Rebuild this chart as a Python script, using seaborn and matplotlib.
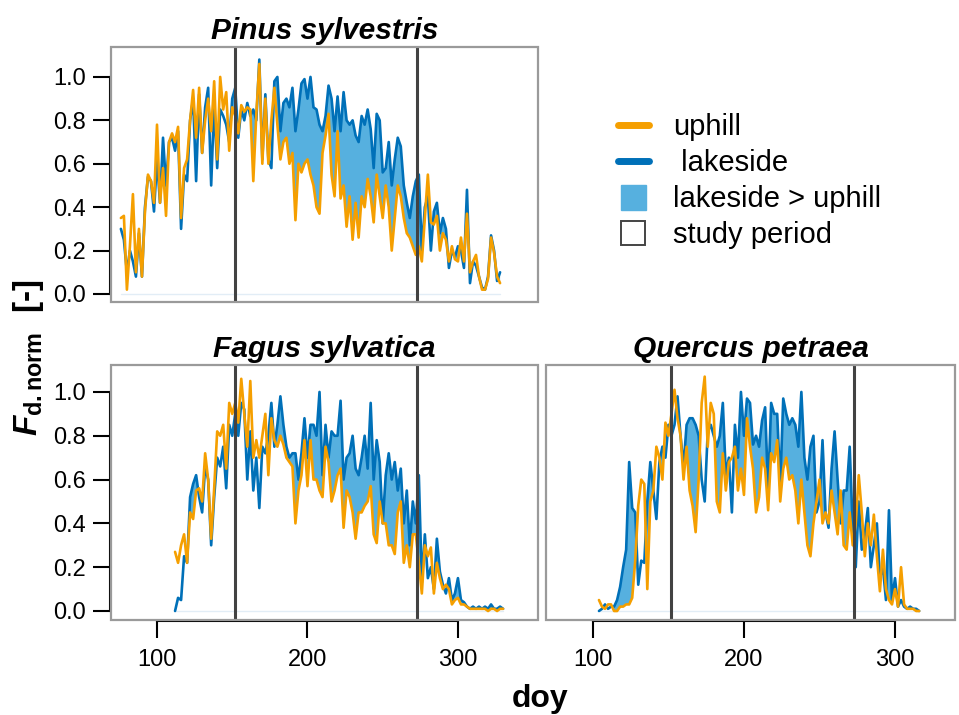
import pandas as pd
import seaborn as sns
import matplotlib.pyplot as plt
from matplotlib.lines import Line2D
from matplotlib.patches import Rectangle

# %% data (daily sap flow, normalised, read every 2nd day)
pinusDoy = list(range(76, 329, 2))
pinusLake = [0.30,0.25,0.10,0.20,0.15,0.08,0.28,0.08,0.40,0.54,
             0.52,0.38,0.62,0.42,0.72,0.50,0.70,0.72,0.66,0.75,
             0.30,0.55,0.52,0.80,0.90,0.52,0.92,0.65,0.86,0.95,
             0.50,0.88,0.58,0.85,0.82,0.78,0.70,0.90,0.95,0.72,
             0.85,0.80,0.88,0.82,0.85,0.80,1.08,0.62,0.92,0.62,
             0.58,0.98,1.00,0.75,0.88,0.90,0.86,0.95,0.75,0.85,
             0.97,0.99,0.90,1.00,0.86,0.85,0.78,0.75,0.82,0.96,
             0.90,0.75,0.91,0.75,0.93,0.80,0.78,0.80,0.73,0.70,
             0.82,0.78,0.85,0.76,0.58,0.83,0.80,0.56,0.58,0.70,
             0.50,0.62,0.72,0.68,0.50,0.42,0.35,0.45,0.52,0.55,
             0.20,0.40,0.45,0.20,0.38,0.42,0.28,0.35,0.30,0.12,
             0.20,0.17,0.22,0.20,0.12,0.48,0.05,0.15,0.13,0.08,
             0.03,0.02,0.08,0.27,0.20,0.06,0.10]
pinusUp = [0.35,0.36,0.02,0.22,0.46,0.10,0.30,0.08,0.38,0.55,
           0.52,0.42,0.78,0.42,0.58,0.36,0.70,0.74,0.70,0.77,
           0.35,0.58,0.62,0.80,0.94,0.72,0.95,0.65,0.80,0.90,
           0.75,0.98,0.62,1.00,0.85,0.93,0.66,0.86,0.82,0.74,
           0.87,0.84,0.86,0.85,0.52,0.83,1.06,0.60,0.90,0.60,
           0.80,0.95,0.78,0.62,0.70,0.72,0.60,0.65,0.34,0.60,
           0.56,0.60,0.62,0.55,0.50,0.40,0.37,0.65,0.73,0.83,
           0.55,0.45,0.75,0.44,0.50,0.31,0.45,0.25,0.42,0.26,
           0.45,0.40,0.53,0.45,0.33,0.55,0.45,0.35,0.50,0.40,
           0.20,0.35,0.50,0.45,0.35,0.28,0.26,0.22,0.18,0.22,
           0.15,0.35,0.55,0.33,0.32,0.36,0.20,0.28,0.25,0.15,
           0.22,0.16,0.15,0.26,0.15,0.37,0.10,0.15,0.18,0.08,
           0.02,0.02,0.07,0.26,0.19,0.08,0.05]
fagusDoy = list(range(112, 331, 2))
fagusLake = [0.00,0.06,0.05,0.25,0.22,0.52,0.58,0.62,0.52,0.45,
             0.66,0.60,0.30,0.52,0.70,0.66,0.75,0.56,0.85,0.80,
             0.90,0.80,0.95,0.92,0.60,0.82,0.55,0.70,0.47,0.75,
             0.72,0.80,0.95,0.75,0.85,0.98,0.85,0.75,0.70,0.72,
             0.72,0.60,0.72,0.88,0.70,0.85,0.85,0.80,1.00,0.62,
             0.85,0.70,0.82,0.80,0.80,0.96,0.60,0.70,0.72,0.80,
             0.65,0.62,0.70,0.80,0.65,0.95,0.60,0.78,0.68,0.40,
             0.62,0.72,0.60,0.68,0.55,0.65,0.40,0.55,0.30,0.50,
             0.40,0.62,0.13,0.35,0.15,0.20,0.10,0.33,0.18,0.12,
             0.08,0.15,0.05,0.08,0.15,0.05,0.04,0.02,0.01,0.02,
             0.01,0.02,0.01,0.02,0.01,0.03,0.01,0.01,0.02,0.01]
fagusUp = [0.27,0.22,0.30,0.35,0.22,0.45,0.42,0.55,0.56,0.50,
           0.72,0.60,0.33,0.56,0.82,0.80,0.85,0.65,0.95,0.90,
           0.95,0.86,1.06,0.90,0.75,1.05,0.70,0.78,0.70,0.80,
           0.90,0.62,0.88,0.78,0.75,0.80,0.76,0.70,0.68,0.66,
           0.40,0.55,0.62,0.78,0.57,0.78,0.60,0.60,0.55,0.52,
           0.75,0.68,0.50,0.55,0.62,0.65,0.38,0.55,0.52,0.45,
           0.33,0.45,0.45,0.48,0.50,0.57,0.35,0.31,0.50,0.40,
           0.40,0.30,0.30,0.26,0.45,0.50,0.22,0.30,0.20,0.35,
           0.35,0.22,0.08,0.30,0.25,0.29,0.08,0.22,0.15,0.10,
           0.12,0.10,0.03,0.05,0.06,0.03,0.03,0.02,0.01,0.01,
           0.01,0.01,0.01,0.01,0.00,0.01,0.01,0.00,0.01,0.01]
quercusDoy = list(range(104, 317, 2))
quercusLake = [0.00,0.01,0.03,0.01,0.02,0.02,0.05,0.11,0.20,0.28,
               0.68,0.47,0.45,0.12,0.23,0.22,0.50,0.68,0.55,0.42,
               0.68,0.75,0.70,0.85,0.80,0.85,0.98,0.80,0.66,0.85,
               0.88,0.88,0.85,0.80,0.60,0.50,0.82,0.85,0.80,0.75,
               0.80,0.95,0.62,0.70,0.45,0.85,0.70,1.00,0.80,0.97,
               0.95,0.76,0.80,0.75,0.87,0.93,0.55,0.95,0.90,0.90,
               0.57,0.97,0.90,0.85,0.88,0.85,0.75,1.00,0.70,0.60,
               0.75,0.80,0.45,0.50,0.78,0.45,0.38,0.65,0.82,0.60,
               0.40,0.55,0.55,0.75,0.38,0.20,0.50,0.28,0.35,0.47,
               0.20,0.30,0.40,0.15,0.20,0.05,0.46,0.05,0.15,0.02,
               0.05,0.02,0.01,0.02,0.01,0.01,0.00]
quercusUp = [0.05,0.02,0.01,0.03,0.03,0.00,0.00,0.02,0.02,0.03,
             0.03,0.06,0.23,0.48,0.60,0.58,0.10,0.50,0.55,0.75,
             0.70,0.60,0.86,0.80,0.90,1.01,0.88,0.80,0.60,0.75,
             0.55,0.48,0.36,0.60,0.95,1.07,0.75,0.95,0.90,0.50,
             0.45,0.72,0.55,0.68,0.70,0.75,0.55,0.65,0.53,0.88,
             0.75,0.65,0.45,0.52,0.70,0.65,0.46,0.72,0.68,0.78,
             0.50,0.65,0.70,0.60,0.62,0.55,0.40,0.60,0.45,0.30,
             0.25,0.40,0.50,0.60,0.40,0.45,0.40,0.55,0.45,0.35,
             0.55,0.30,0.28,0.45,0.30,0.40,0.62,0.45,0.25,0.40,
             0.30,0.44,0.25,0.09,0.28,0.10,0.05,0.03,0.10,0.02,
             0.20,0.03,0.01,0.01,0.01,0.00,0.00]
studyPeriod = [152, 273]
yTicks = [0.0, 0.2, 0.4, 0.6, 0.8, 1.0]
xTicks = [100, 200, 300]
legendLabels = ['uphill', ' lakeside', 'lakeside > uphill', 'study period']

# %% style
sns.set_theme(style="white")
plt.rcParams['font.family'] = ['Liberation Sans', 'DejaVu Sans']
plt.rcParams['mathtext.fontset'] = 'custom'
plt.rcParams['mathtext.it'] = 'Liberation Sans:italic:bold'
plt.rcParams['mathtext.bf'] = 'Liberation Sans:bold'
plt.rcParams['mathtext.rm'] = 'Liberation Sans:bold'
for k in ['text.color', 'axes.labelcolor', 'xtick.color', 'ytick.color']:
    plt.rcParams[k] = 'black'
colUp = '#F59F00'
colLake = '#0070B8'
colFill = '#56B0DF'
colStudy = '#424242'
colBox = '#9A9A9A'

def panel(ax, doy, lake, up, title, xlim, ylim, showX, showY):
    df = pd.DataFrame({'doy': doy, 'lake': lake, 'up': up})
    ax.fill_between(df.doy, df.up, df.lake, where=df.lake > df.up, interpolate=True,
                    color=colFill, lw=0, zorder=1)
    ax.plot([doy[0], doy[-1]], [0, 0], color='#e2edf6', lw=1, zorder=0.5)
    sns.lineplot(data=df, x='doy', y='lake', color=colLake, lw=1.9, ax=ax, zorder=2)
    sns.lineplot(data=df, x='doy', y='up', color=colUp, lw=1.9, ax=ax, zorder=3)
    for d in studyPeriod:
        ax.axvline(d, color=colStudy, lw=2.2, zorder=4)
    ax.set_xlim(xlim)
    ax.set_ylim(ylim)
    ax.set_xlabel('')
    ax.set_ylabel('')
    for s in ax.spines.values():
        s.set_visible(False)
    ax.add_patch(Rectangle((0, 0), 1, 1, transform=ax.transAxes, fill=False, ec=colBox,
                           lw=1.6, clip_on=False, zorder=5))
    if showY:
        sp = ax.spines['left']
        sp.set_visible(True)
        sp.set_color('black')
        sp.set_linewidth(1.5)
        sp.set_position(('outward', 1))
        sp.set_bounds(0, 1)
        ax.set_yticks(yTicks)
        ax.set_yticklabels([f'{v:.1f}' for v in yTicks])
        ax.tick_params(axis='y', left=True, direction='out', length=12, width=1.5,
                       labelsize=17, pad=5, color='black', labelcolor='black')
    else:
        ax.set_yticks([])
    if showX:
        sp = ax.spines['bottom']
        sp.set_visible(True)
        sp.set_color('black')
        sp.set_linewidth(1.5)
        sp.set_position(('outward', 1))
        sp.set_bounds(100, 300)
        ax.set_xticks(xTicks)
        ax.set_xticklabels([str(v) for v in xTicks])
        ax.tick_params(axis='x', bottom=True, direction='out', length=12, width=1.5,
                       labelsize=17, pad=8, color='black', labelcolor='black')
    else:
        ax.set_xticks([])
    ax.set_title(title, fontsize=21.5, fontweight='bold', fontstyle='italic', pad=6,
                 color='black')

# %% figure
fig = plt.figure(figsize=(9.59, 7.15), dpi=100)
axP = fig.add_axes([0.1157, 0.5776, 0.4453, 0.3567])
axF = fig.add_axes([0.1157, 0.1329, 0.4453, 0.3566])
axQ = fig.add_axes([0.5693, 0.1329, 0.4265, 0.3566])
panel(axP, pinusDoy, pinusLake, pinusUp, 'Pinus sylvestris', (69.4, 353.2), (-0.037, 1.138), False, True)
panel(axF, fagusDoy, fagusLake, fagusUp, 'Fagus sylvatica', (69.4, 353.2), (-0.041, 1.123), True, True)
panel(axQ, quercusDoy, quercusLake, quercusUp, 'Quercus petraea', (68.9, 339.7), (-0.041, 1.123), True, False)

handles = [Line2D([], [], color=colUp, lw=5, solid_capstyle='round'),
           Line2D([], [], color=colLake, lw=5, solid_capstyle='round'),
           Line2D([], [], marker='s', ms=18, ls='None', mfc=colFill, mec=colFill),
           Line2D([], [], marker='s', ms=17, ls='None', mfc='white', mec='#444444', mew=1.4)]
fig.legend(handles, legendLabels, loc='upper left', bbox_to_anchor=(0.617, 0.878),
           frameon=False, fontsize=21, handlelength=1.05, handletextpad=0.85,
           labelspacing=0.27)

fig.text(0.03, 0.50, r'$F_{\mathbf{d.norm}}$  [-]', rotation=90, fontsize=24,
         fontweight='bold', ha='center', va='center')
fig.text(0.563, 0.022, 'doy', fontsize=23, fontweight='bold', ha='center', va='center')
fig.savefig('out.png', dpi=100)
